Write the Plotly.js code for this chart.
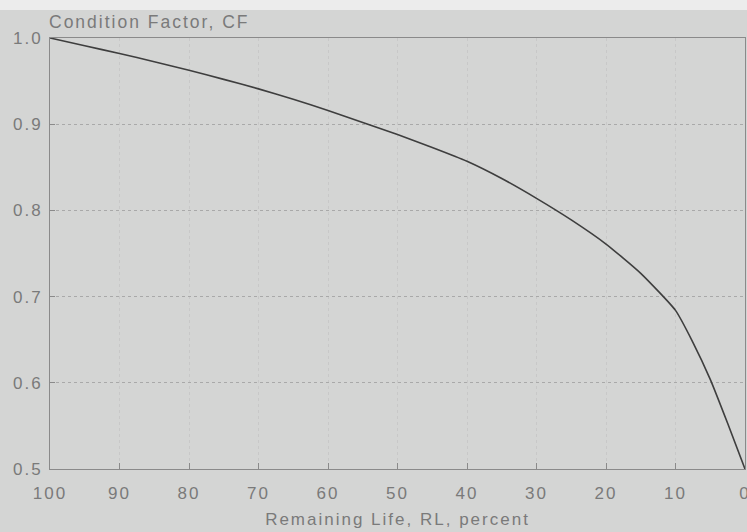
<!DOCTYPE html>
<html>
<head>
<meta charset="utf-8">
<script src="https://cdn.plot.ly/plotly-3.0.1.min.js"></script>
<style>
html,body{margin:0;padding:0;background:#d4d5d4;}
#chart{width:747px;height:532px;}
svg text{letter-spacing:2px;}
</style>
</head>
<body>
<div id="chart"></div>
<script>
const remainingLife = [100, 95, 90, 85, 80, 75, 70, 65, 60, 55, 50, 45, 40, 35, 30, 25, 20, 15, 10, 7.5, 5, 2.5, 0];
const conditionFactor = [1.0, 0.991, 0.982, 0.9725, 0.9625, 0.952, 0.941, 0.929, 0.916, 0.902, 0.888, 0.873, 0.857, 0.837, 0.814, 0.789, 0.761, 0.727, 0.684, 0.647, 0.604, 0.553, 0.5];
const xTicks = [100, 90, 80, 70, 60, 50, 40, 30, 20, 10, 0];
const yTicks = [0.5, 0.6, 0.7, 0.8, 0.9, 1.0];
const yTickText = ['0.5', '0.6', '0.7', '0.8', '0.9', '1.0'];

const fontFam = '"Liberation Sans", Arial, sans-serif';
const txt = '#7a7a7a';

Plotly.newPlot('chart', [{
  x: remainingLife,
  y: conditionFactor,
  type: 'scatter',
  mode: 'lines',
  line: {color: '#3e3e3e', width: 1.6, shape: 'spline', smoothing: 0.5},
  hoverinfo: 'skip'
}], {
  width: 747,
  height: 532,
  margin: {l: 50, r: 2, t: 38, b: 63},
  paper_bgcolor: '#d4d5d4',
  plot_bgcolor: '#d4d5d4',
  showlegend: false,
  font: {family: fontFam, color: txt, size: 17},
  title: {
    text: 'Condition Factor, CF',
    x: 49 / 747, xref: 'container', xanchor: 'left',
    y: 1 - 22 / 532, yref: 'container', yanchor: 'middle',
    font: {family: fontFam, size: 17.5, color: txt}
  },
  xaxis: {
    range: [100, 0],
    tickvals: xTicks,
    ticktext: xTicks.map(String),
    ticks: 'inside', ticklen: 6, tickcolor: '#8a8a8a',
    ticklabeloverflow: 'allow',
    ticklabelstandoff: 9,
    showline: true, linecolor: '#8a8a8a', linewidth: 1, mirror: true,
    showgrid: true, gridcolor: '#c8c8c8', griddash: 'dot', gridwidth: 1,
    zeroline: false,
    tickfont: {size: 17, color: txt},
    title: {text: 'Remaining Life, RL, percent', standoff: 10, font: {size: 17, color: txt}}
  },
  yaxis: {
    range: [0.5, 1.0],
    tickvals: yTicks,
    ticktext: yTickText,
    ticks: 'inside', ticklen: 5, tickcolor: '#8a8a8a',
    ticklabeloverflow: 'allow',
    ticklabelstandoff: 3,
    showline: true, linecolor: '#8a8a8a', linewidth: 1, mirror: true,
    showgrid: true, gridcolor: '#a9a9a9', griddash: 'dot', gridwidth: 1,
    zeroline: false,
    tickfont: {size: 17, color: txt}
  },
  shapes: [{
    type: 'rect', xref: 'paper', yref: 'paper',
    x0: -0.1, x1: 1.01, y0: 1 + 28 / 431, y1: 1 + 40 / 431,
    fillcolor: '#ececec', line: {width: 0}, layer: 'below'
  }]
}, {displayModeBar: false, staticPlot: true});
</script>
</body>
</html>
